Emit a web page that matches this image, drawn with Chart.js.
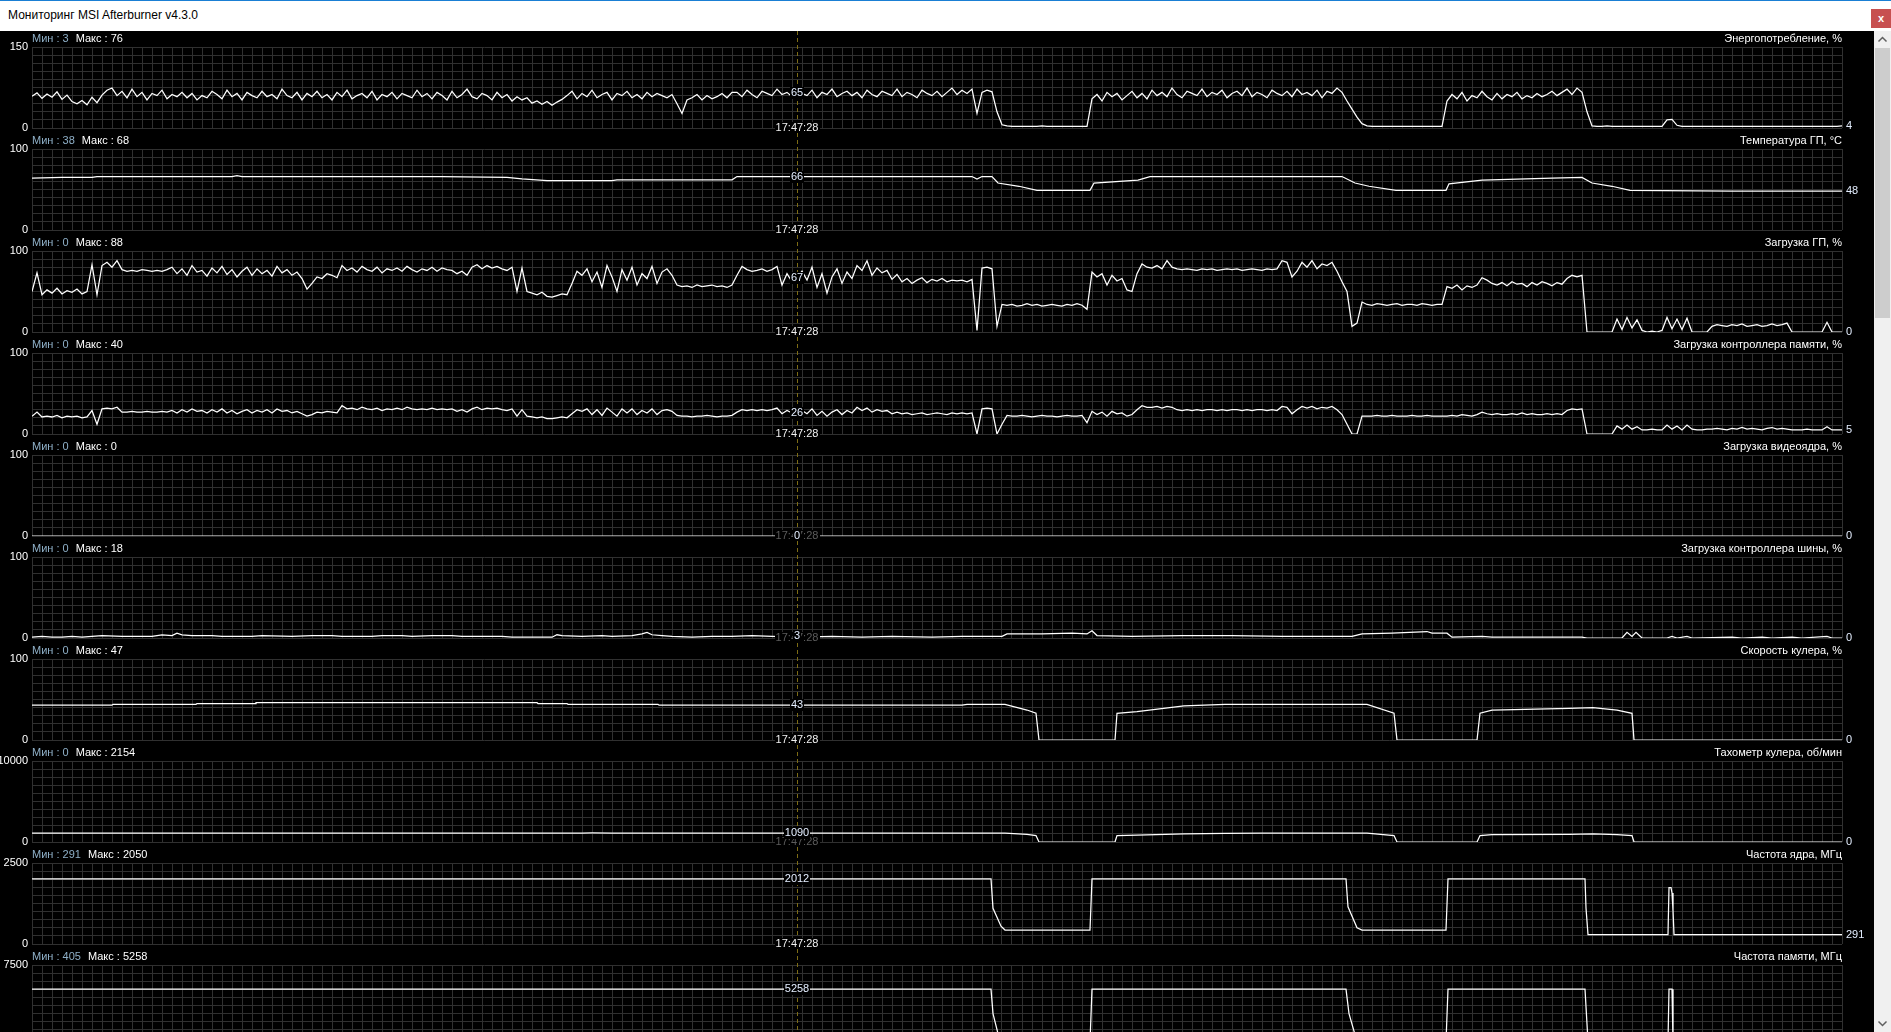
<!DOCTYPE html>
<html>
<head>
<meta charset="utf-8">
<script src="https://cdn.jsdelivr.net/npm/chart.js@4.4.0/dist/chart.umd.min.js"></script>
<style>
html, body { margin: 0; padding: 0; width: 1891px; height: 1032px; overflow: hidden; background: #000; font-family: "Liberation Sans", Arial, sans-serif; }
#titlebar { position: absolute; left: 0; top: 0; width: 1891px; height: 30px; background: #fff; border-top: 1px solid #1a7fd4; }
#titlebar span { position: absolute; left: 8px; top: 7px; font-size: 12px; color: #000; }
#closeBtn { position: absolute; left: 1871px; top: 8px; width: 20px; height: 19px; background: #c75050; color: #fff; font: bold 11px "Liberation Sans", Arial, sans-serif; text-align: center; line-height: 18px; }
#panels { position: absolute; left: 0; top: 31px; width: 1874px; height: 1001px; overflow: hidden; }
.panel { position: absolute; left: 0; }
#scroll { position: absolute; left: 1874px; top: 31px; width: 17px; height: 1001px; background: #f0f0f0; }
#thumb { position: absolute; left: 1px; top: 17px; width: 15px; height: 270px; background: #cdcdcd; }
#scroll svg { position: absolute; left: 0; }
</style>
</head>
<body>
<div id="titlebar"><span>Мониторинг MSI Afterburner v4.3.0</span><div id="closeBtn">x</div></div>
<div id="panels"></div>
<div id="scroll">
    <svg style="top:0" width="17" height="17"><polyline points="4.5,10.5 8.5,6.5 12.5,10.5" fill="none" stroke="#606060" stroke-width="1.5"/></svg>
    <div id="thumb"></div>
    <svg style="top:984px" width="17" height="17"><polyline points="4.5,6.5 8.5,10.5 12.5,6.5" fill="none" stroke="#606060" stroke-width="1.5"/></svg>
</div>
<script>
// история: 181 клетка сетки, шум пишется с шагом 0.5 клетки
const historyLength = 181;
const STEP = 0.5;
const cursorT = 76.5;
const timeLabel = "17:47:28";

const panelTitles = ["Энергопотребление, %", "Температура ГП, °C", "Загрузка ГП, %", "Загрузка контроллера памяти, %",
    "Загрузка видеоядра, %", "Загрузка контроллера шины, %", "Скорость кулера, %", "Тахометр кулера, об/мин",
    "Частота ядра, МГц", "Частота памяти, МГц"];
const axisMax = [150, 100, 100, 100, 100, 100, 100, 10000, 2500, 7500];
const minValues = [3, 38, 0, 0, 0, 0, 0, 0, 291, 405];
const maxValues = [76, 68, 88, 40, 0, 18, 47, 2154, 2050, 5258];
const cursorValues = [65, 66, 67, 26, 0, 3, 43, 1090, 2012, 5258];
const lastValues = [4, 48, 0, 5, 0, 0, 0, 0, 291, 405];

// Энергопотребление (шаг 0.5)
const powerUse = [
    59,65,55,63,57,67,53,61,49,45,51,43,57,47,61,
    70,74,
    60,68,56,72,58,66,52,64,60,70,54,62,58,66,56,64,52,60,56,68,
    62,54,70,58,64,52,66,60,56,68,58,62,54,72,60,56,66,52,64,58,
    68,56,62,52,66,58,70,54,60,64,56,68,52,62,58,66,54,64,60,56,
    70,58,64,54,66,60,52,68,56,62,72,58,54,64,60,52,66,56,62,50,58,
    52,56,46,50,44,49,42,48,53,
    60,68,54,64,58,70,56,62,66,52,64,60,68,56,62,54,66,58,64,60,56,62,
    45,27,52,
    56,62,52,60,54,58,64,56,66,
    66,58,70,62,56,68,64,60,72,62,66,58,68,64,60,70,56,66,62,72,
    58,64,68,60,66,56,70,62,58,68,64,60,72,58,66,62,56,70,64,60,
    68,58,66,74,62,70,64,72,
    27,
    66,70,67,
    30,6,
    4,3,3,3,3,3,3,4,3,3,3,3,3,3,3,3,3,
    54,62,50,66,58,64,52,60,68,56,64,54,70,60,66,58,74,62,56,68,
    64,60,72,58,66,62,70,56,64,68,60,74,58,66,62,56,70,64,60,68,
    58,72,62,66,60,70,56,68,64,74,66,
    50,35,20,8,
    4,3,3,3,3,3,3,3,3,3,3,3,3,3,3,3,
    50,62,54,66,50,60,56,68,58,52,64,54,62,58,66,54,60,56,64,58,
    62,68,60,66,72,62,74,66,
    30,
    4,3,3,4,3,3,3,3,3,3,3,3,3,3,3,
    15,16,5,
    3,3,3,3,3,3,3,3,3,3,3,3,3,3,3,3,3,3,3,3,3,3,3,3,3,3,3,3,3,3,3,3,4
];

// Температура ГП (точки [время, значение])
const gpuTemp = [[0,64],[3,65],[6,65],[6.5,66],[20,66],[20.5,67],[21,66],[41,66],[47.5,65],[49,63],[51.5,61],
    [58,61],[58.5,62],[70,62],[70.5,66],[94,66],[94.5,63],[95,66],[96,66],[96.6,58],[98.7,54],[100.5,49],
    [105.8,49],[106.2,58],[110.6,61.5],[111.8,66],[131,66],[132.3,58],[133.7,54],[136.4,49],[141.4,49],
    [141.7,57],[145,61.5],[152,64],[155,65],[156,58],[158,54],[159.8,49],[170,48],[181,48]];

// Загрузка ГП (шаг 0.5)
const gpuLoad = [
    50,73,46,
    52,48,54,47,51,49,53,47,50,
    83,46,82,86,80,88,
    77,75,76,75,77,76,75,76,75,77,
    80,72,78,70,82,74,76,69,79,73,81,71,77,68,75,80,70,78,72,76,69,81,73,77,70,74,66,53,
    60,68,66,72,70,67,
    82,
    76,79,74,81,77,75,80,73,78,76,79,75,81,77,74,78,76,80,75,79,77,76,
    72,75,70,
    80,83,78,82,79,81,78,
    76,80,50,79,50,
    48,46,49,44,43,45,47,46,
    60,75,70,
    78,62,74,55,82,68,50,77,64,80,58,72,66,81,60,74,78,70,
    58,56,57,55,58,56,57,58,56,57,55,58,
    70,81,
    77,75,76,78,75,77,
    81,58,72,62,67,75,
    64,80,55,72,48,68,78,60,74,66,82,76,88,70,79,73,76,65,71,
    62,66,60,64,67,61,65,63,66,62,64,63,
    64,62,65,
    2,
    79,80,78,
    7,34,
    33,34,32,33,35,33,34,32,33,34,33,32,34,33,35,33,
    28,
    74,68,72,58,70,63,66,52,50,
    72,84,80,
    79,82,78,88,80,
    78,77,78,77,76,78,77,78,76,77,78,77,78,76,77,78,77,76,78,77,78,
    88,86,68,
    75,86,80,88,78,84,82,86,
    75,62,50,7,11,37,
    34,33,35,34,33,34,35,33,34,34,33,35,34,33,34,34,
    56,54,58,52,57,55,58,
    67,64,
    60,58,61,57,62,59,60,56,61,58,62,60,57,61,59,
    66,70,68,70,
    0,0,0,0,0,0,
    16,3,18,5,15,
    2,0,1,0,2,
    18,4,16,3,17,
    0,0,0,0,
    7,9,8,7,9,8,10,7,8,9,7,8,10,8,9,11,
    0,0,0,0,0,0,0,
    12,
    0,0,0
];

// Загрузка контроллера памяти (шаг 0.5)
const memCtrlLoad = [
    22,27,21,
    22,21,23,20,22,21,22,20,21,
    29,12,31,32,31,33,
    27,27,28,27,27,28,27,27,28,27,
    29,26,30,27,31,28,29,26,30,27,31,26,29,25,28,30,26,29,27,30,26,31,28,29,26,28,25,22,
    24,27,26,28,27,26,
    35,
    31,32,30,33,31,30,32,29,31,30,32,30,33,31,30,31,30,32,30,31,30,31,
    28,30,27,
    31,33,30,32,31,32,30,
    29,31,22,30,22,
    21,20,21,19,19,20,21,20,
    25,30,28,
    31,24,30,23,32,27,22,31,26,31,24,29,26,31,24,29,30,28,
    23,22,22,21,22,22,23,22,21,22,22,23,
    27,30,
    29,30,29,30,29,30,
    32,25,29,26,26,29,
    25,31,23,28,22,27,30,24,29,26,33,29,32,27,30,28,29,25,27,
    25,26,24,25,26,24,25,26,25,24,26,25,
    26,25,26,
    0,
    31,32,31,
    0,12,
    23,22,22,23,22,21,22,23,22,22,21,22,23,22,22,23,
    14,
    28,24,27,22,28,25,26,22,24,
    30,35,33,
    33,34,32,34,33,
    30,29,30,29,30,29,30,30,29,30,29,30,30,29,30,29,30,30,29,30,29,
    34,33,25,
    30,34,32,34,31,33,32,34,
    30,24,12,0,0,22,
    22,22,23,22,22,23,22,22,22,23,22,22,23,22,22,22,
    22,23,22,24,23,22,24,
    27,25,
    24,25,24,24,25,24,26,24,25,24,24,25,24,25,24,
    29,31,30,31,
    0,0,0,0,0,0,
    10,6,11,6,9,
    5,5,6,5,5,
    11,6,10,5,11,
    6,5,5,6,
    6,7,6,5,7,6,8,6,7,6,5,7,8,6,7,6,
    5,5,5,6,5,5,5,
    9,
    5,5,5
];

const videoLoad = [[0,0],[181,0]];

const busLoad = [[0,1],[1,2],[2,1],[3,1],[4,2],[5,1],[6,2],[7,3],[9,2],[12,2],[13,4],[14,3],[14.5,6],[15,4],
    [16,3],[18,3],[19,2],[22,2],[23,3],[26,2],[28,3],[30,3],[31,2],[34,2],[35,3],[37,3],[38,2],[40,3],[42,3],
    [43,2],[47,2],[48,1],[52,1],[52.5,4],[53,3],[55,2],[57,3],[58,2],[60,3],[61,5],[61.5,7],[62,4],[63,3],
    [64,2],[66,1],[68,2],[70,2],[72,3],[74,2],[77,1],[80,2],[83,1],[86,2],[90,1],[93,2],[97,2],[97.5,5],
    [101,5],[104,6],[105.5,5],[106,9],[106.5,3],[110,2],[115,3],[120,3],[125,2],[132,2],[133,5],[136,6],
    [139.5,8],[140,6],[141.5,6],[142,1],[145,2],[146,1],[155,1],[155.5,0],[159,0],[159.5,7],[160,2],
    [160.4,7],[161,0],[163.5,0],[164,2],[164.5,0],[165.5,2],[166,0],[170,1],[171,0],[173,1],[174,0],
    [176,1],[177,0],[179.5,2],[180,0],[181,0]];

const fanSpeed = [[0,43],[8,43],[8.1,44],[16.4,44],[16.5,45],[22.3,45],[22.4,46],[50.5,46],[50.6,45],
    [53.5,45],[53.6,44],[62.6,44],[62.7,43],[93,43],[93.5,44],[97.3,44],[99.5,37],[100.4,33],[100.7,0],
    [108.3,0],[108.5,33],[110.5,35],[115.2,42],[119.3,44],[133.5,44],[136.2,33],[136.5,0],[144.5,0],
    [144.8,33],[146,37],[153.7,39],[156.1,40],[158.5,37],[160,33],[160.2,0],[181,0]];

const fanRpm = [[0,1090],[7.5,1090],[7.6,1110],[9.5,1110],[9.6,1100],[55,1100],[56,1120],[58,1110],
    [58.5,1100],[61,1100],[61.5,1090],[97.3,1090],[99.5,950],[100.4,800],[100.7,0],[108.3,0],[108.5,780],
    [110.5,850],[115.2,1000],[119.3,1080],[123,1110],[127,1100],[133.5,1090],[136.2,800],[136.5,0],
    [144.5,0],[144.8,800],[146,900],[153.7,950],[156.1,990],[158.5,900],[160,800],[160.2,0],[181,0]];

const coreClock = [[0,2012],[95.9,2012],[96.1,1100],[96.9,550],[97.3,432],[105.8,432],[106,2012],
    [131.4,2012],[131.6,1150],[132.5,500],[133,432],[141.4,432],[141.6,2012],[155.3,2012],[155.4,1111],
    [155.6,291],[163.6,291],[163.7,1738],[163.9,1738],[164,1574],[164.1,1049],[164.2,291],[181,291]];

const memClock = [[0,5258],[95.9,5258],[96.1,3000],[96.8,405],[105.8,405],[106,5258],[131.4,5258],
    [131.7,3000],[132.5,405],[141.4,405],[141.6,5258],[155.3,5258],[155.6,405],[163.6,405],[163.7,5258],
    [164,5258],[164.1,405],[181,405]];

const allSeries = [powerUse, gpuTemp, gpuLoad, memCtrlLoad, videoLoad, busLoad, fanSpeed, fanRpm, coreClock, memClock];

const FONT = '"Liberation Sans", Arial, sans-serif';
const GRID = '#303030';
Chart.defaults.font.family = FONT;
Chart.defaults.font.size = 11;

const toPoints = (s) => Array.isArray(s[0])
    ? s.map(([x, y]) => ({x, y}))
    : s.map((v, i) => ({x: i * STEP, y: v}));

// подпись с чёрной подложкой
const tag = (ctx, text, x, y, color) => {
    const w = ctx.measureText(text).width;
    ctx.fillStyle = '#000';
    ctx.fillRect(Math.round(x - w / 2) - 1, Math.round(y) - 6, Math.round(w) + 2, 12);
    ctx.fillStyle = color;
    ctx.textAlign = 'center';
    ctx.fillText(text, x, y);
};

const overlay = {
    id: 'overlay',
    beforeDatasetsDraw(chart) {
        const ctx = chart.ctx;
        const x = Math.round(chart.scales.x.getPixelForValue(cursorT)) + 0.5;
        ctx.save();
        ctx.strokeStyle = '#7d6c15';
        ctx.lineWidth = 1;
        ctx.setLineDash([4, 3]);
        ctx.beginPath();
        ctx.moveTo(x, 0);
        ctx.lineTo(x, 102);
        ctx.stroke();
        ctx.restore();
    },
    afterDraw(chart, args, opts) {
        const k = opts.index;
        const ctx = chart.ctx;
        const area = chart.chartArea;
        const xs = chart.scales.x, ys = chart.scales.y;
        ctx.save();
        ctx.font = '11px ' + FONT;
        ctx.textBaseline = 'middle';

        ctx.textAlign = 'left';
        const minTxt = 'Мин : ' + minValues[k];
        ctx.fillStyle = '#8fb0c8';
        ctx.fillText(minTxt, area.left, 8);
        ctx.fillStyle = '#ffffff';
        ctx.fillText('Макс : ' + maxValues[k], area.left + ctx.measureText(minTxt).width + 7, 8);
        ctx.textAlign = 'right';
        ctx.fillText(panelTitles[k], area.right, 8);

        ctx.textAlign = 'left';
        ctx.fillStyle = '#e4eeff';
        ctx.fillText(String(lastValues[k]), area.right + 4, ys.getPixelForValue(lastValues[k]));

        const cx = xs.getPixelForValue(cursorT);
        const vy = ys.getPixelForValue(cursorValues[k]);
        const dim = area.bottom - vy < 12;
        tag(ctx, timeLabel, cx, area.bottom, dim ? '#5c5c5c' : '#f0f0f0');
        tag(ctx, String(cursorValues[k]), cx, vy, '#e4eeff');
        ctx.restore();
    }
};

const holder = document.getElementById('panels');
allSeries.forEach((s, k) => {
    const cv = document.createElement('canvas');
    cv.width = 1874;
    cv.height = 110;
    cv.className = 'panel';
    cv.style.top = (k * 102) + 'px';
    holder.appendChild(cv);

    new Chart(cv, {
        type: 'line',
        data: {
            datasets: [{
                data: toPoints(s),
                borderColor: '#ffffff',
                borderWidth: 1.25,
                pointRadius: 0,
                tension: 0,
                fill: false
            }]
        },
        options: {
            responsive: false,
            devicePixelRatio: 1,
            animation: false,
            events: [],
            layout: { padding: { top: 16, right: 32, bottom: 13, left: 0 } },
            scales: {
                x: {
                    type: 'linear', min: 0, max: historyLength,
                    ticks: { display: false, stepSize: 1 },
                    grid: { color: GRID, drawTicks: false },
                    border: { display: false },
                    afterFit(scale) { scale.height = 0; }
                },
                y: {
                    min: 0, max: axisMax[k],
                    ticks: {
                        stepSize: axisMax[k] / 10,
                        autoSkip: false,
                        color: '#ffffff',
                        padding: 4,
                        callback: (v, i, arr) => (i === 0 || i === arr.length - 1) ? v : ''
                    },
                    grid: { color: GRID, drawTicks: false },
                    border: { display: false },
                    afterFit(scale) { scale.width = 32; }
                }
            },
            plugins: {
                legend: { display: false },
                tooltip: { enabled: false },
                overlay: { index: k }
            }
        },
        plugins: [overlay]
    });
});
</script>
</body>
</html>
